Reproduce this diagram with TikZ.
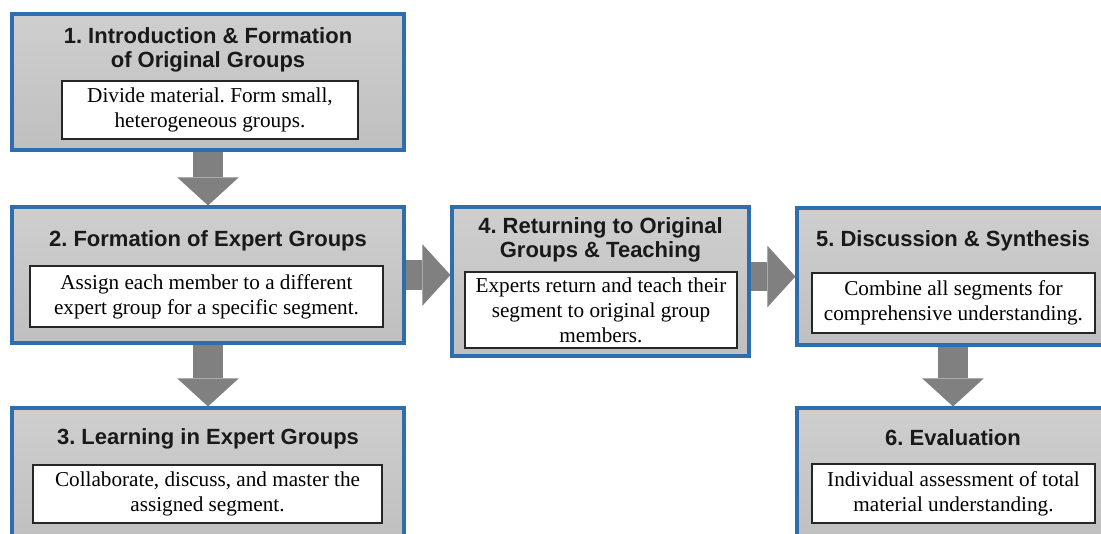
\documentclass[tikz,border=0pt]{standalone}
\usepackage{fontspec}
\setmainfont{Liberation Serif}
\setsansfont{Liberation Sans}
\usetikzlibrary{arrows.meta,positioning}

\definecolor{stepblue}{HTML}{2E6DAE}
\definecolor{flowgray}{HTML}{808080}

\begin{document}
\frenchspacing
\begin{tikzpicture}[x=0.75pt, y=-0.75pt, line join=miter,
    stepbox/.style={draw=stepblue, line width=2.3pt, top color=black!19, bottom color=black!25, inner sep=0pt},
    head/.style={font=\sffamily\bfseries\fontsize{16.5}{18}\selectfont, align=center, inner sep=0pt, text=black!90},
    desc/.style={draw=black!85, line width=1.1pt, fill=white, font=\fontsize{15.9}{18.8}\selectfont, align=center, inner sep=0pt},
    flow/.style={draw=flowgray, line width=22pt, -{Triangle[width=46pt, length=21pt, line width=0pt]}}]
    \fill[white] (0,0) rectangle (1101,534);
    \useasboundingbox (0,0) rectangle (1101,534);
    \clip (0,0) rectangle (1101,534);

    % left column
    \node[stepbox, minimum width=294pt, minimum height=102pt] (step1) at (208,82) {};
    \node[head] (head1) at (208,50) {1. Introduction \& Formation\\of Original Groups};
    \node[desc, minimum width=222pt, minimum height=43.5pt] (desc1) at (210,110) {Divide material. Form small,\\heterogeneous groups.};

    \node[stepbox, minimum width=294pt, minimum height=102pt] (step2) at (208,275) {};
    \node[head] (head2) at (208,241) {2. Formation of Expert Groups};
    \node[desc, minimum width=264.75pt, minimum height=45.75pt] (desc2) at (206.5,296.5) {Assign each member to a different\\expert group for a specific segment.};

    \node[stepbox, minimum width=294pt, minimum height=102pt] (step3) at (208,476) {};
    \node[head] (head3) at (208,439) {3. Learning in Expert Groups};
    \node[desc, minimum width=261.75pt, minimum height=43.5pt] (desc3) at (207.5,494) {Collaborate, discuss, and master the\\assigned segment.};

    % middle
    \node[stepbox, minimum width=222.75pt, minimum height=111.75pt] (step4) at (600.5,281.5) {};
    \node[head] (head4) at (600.5,239.5) {4. Returning to Original\\Groups \& Teaching};
    \node[desc, minimum width=204pt, minimum height=57pt] (desc4) at (601,310) {Experts return and teach their\\segment to original group\\members.};

    % right column
    \node[stepbox, minimum width=234pt, minimum height=102.75pt] (step5) at (953,276.5) {};
    \node[head] (head5) at (953,241) {5. Discussion \& Synthesis};
    \node[desc, minimum width=212.25pt, minimum height=45pt] (desc5) at (953.5,303) {Combine all segments for\\comprehensive understanding.};

    \node[stepbox, minimum width=234pt, minimum height=102pt] (step6) at (953,476) {};
    \node[head] (head6) at (953,438) {6. Evaluation};
    \node[desc, minimum width=212.25pt, minimum height=44.25pt] (desc6) at (953.5,493.5) {Individual assessment of total\\material understanding.};

    % block arrows
    \draw[flow] (step1.south) -- (step2.north);
    \draw[flow] (step2.south) -- (step3.north);
    \draw[flow] (step2.east) -- (step2.east -| step4.west);
    \draw[flow] (step4.east |- step5.west) -- (step5.west);
    \draw[flow] (step5.south) -- (step6.north);
\end{tikzpicture}
\end{document}
